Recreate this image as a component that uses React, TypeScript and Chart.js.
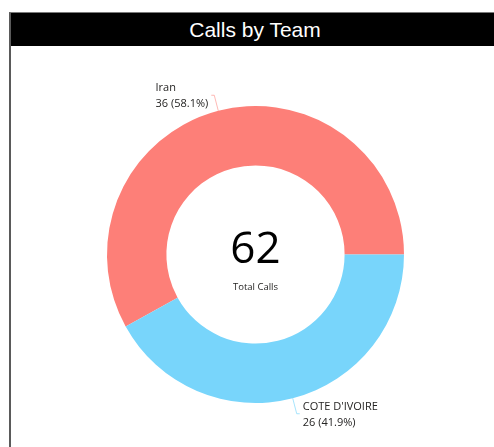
import React, { useEffect, useRef } from "react";
import { Chart, registerables } from "chart.js";

Chart.register(...registerables);

const teams = ["Iran", "COTE D'IVOIRE"];
const calls = [36, 26];
const colors = ["#FD7F78", "#78D5FB"];
const lineColors = ["rgba(253,127,120,0.55)", "rgba(120,213,251,0.65)"];
const titleText = "Calls by Team";
const centerLabel = "Total Calls";

const total = calls.reduce((a, b) => a + b, 0);

const labelPlugin = {
  id: "donutLabels",
  afterDatasetsDraw(chart: any) {
    const ctx = chart.ctx;
    const meta = chart.getDatasetMeta(0);
    ctx.save();
    meta.data.forEach((arc: any, i: number) => {
      const p = arc.getProps(["x", "y", "startAngle", "endAngle", "outerRadius"], true);
      const mid = (p.startAngle + p.endAngle) / 2;
      const cx = Math.cos(mid);
      const cy = Math.sin(mid);
      const x0 = p.x + cx * p.outerRadius;
      const y0 = p.y + cy * p.outerRadius;
      const x1 = p.x + cx * (p.outerRadius + 16);
      const y1 = p.y + cy * (p.outerRadius + 16);
      const right = cx >= 0;
      const x2 = x1 + (right ? 3 : -3);
      ctx.strokeStyle = lineColors[i];
      ctx.lineWidth = 1;
      ctx.beginPath();
      ctx.moveTo(x0, y0);
      ctx.lineTo(x1, y1);
      ctx.lineTo(x2, y1);
      ctx.stroke();
      const pct = ((calls[i] / total) * 100).toFixed(1);
      const lines = [teams[i], `${calls[i]} (${pct}%)`];
      ctx.font = "11px 'Open Sans'";
      ctx.fillStyle = "#252423";
      ctx.textBaseline = "middle";
      ctx.textAlign = "left";
      const maxW = Math.max(...lines.map((l) => ctx.measureText(l).width));
      const tx = right ? x2 + 3 : x2 - 3 - maxW;
      ctx.fillText(lines[0], tx, y1 - 7);
      ctx.fillText(lines[1], tx, y1 + 9);
    });
    // center text
    const a0 = meta.data[0];
    const cxp = a0.x;
    const cyp = a0.y;
    ctx.textAlign = "center";
    ctx.textBaseline = "middle";
    ctx.fillStyle = "#000000";
    ctx.font = "44px 'Open Sans'";
    ctx.fillText(String(total), cxp, cyp - 4);
    ctx.fillStyle = "#252423";
    ctx.font = "9.5px 'Open Sans'";
    ctx.fillText(centerLabel, cxp, cyp + 33);
    ctx.restore();
  },
};

export default function App() {
  const ref = useRef<HTMLCanvasElement | null>(null);
  useEffect(() => {
    if (!ref.current) return;
    const chart = new Chart(ref.current, {
      type: "doughnut",
      data: {
        labels: teams,
        datasets: [
          {
            data: calls,
            backgroundColor: colors,
            borderWidth: 0,
            hoverOffset: 0,
          },
        ],
      },
      options: {
        responsive: false,
        animation: false,
        cutout: "60%",
        rotation: 90 - (360 * calls[0]) / total,
        layout: { padding: { left: 107, right: 90, top: 106, bottom: 44 } },
        plugins: {
          legend: { display: false },
          tooltip: { enabled: false },
          title: { display: false },
        },
      },
      plugins: [labelPlugin],
    });
    return () => chart.destroy();
  }, []);

  return (
    <div
      style={{
        position: "fixed",
        left: 0,
        top: 0,
        width: 494,
        height: 447,
        overflow: "hidden",
        background: "#fff",
      }}
    >
      <canvas
        ref={ref}
        width={494}
        height={447}
        style={{ position: "absolute", left: 0, top: 0, width: 494, height: 447 }}
      />
      <div
        style={{
          position: "absolute",
          left: 9,
          top: 12,
          width: 490,
          height: 460,
          borderLeft: "2px solid #5a5a5a",
          borderTop: "1px solid #7a7a7a",
          boxSizing: "border-box",
          pointerEvents: "none",
        }}
      >
        <div
          style={{
            height: 33,
            background: "#000",
            color: "#fff",
            fontFamily: "'Liberation Sans', Arial, sans-serif",
            fontSize: 21,
            lineHeight: "33px",
            textAlign: "center",
          }}
        >
          {titleText}
        </div>
      </div>
    </div>
  );
}
